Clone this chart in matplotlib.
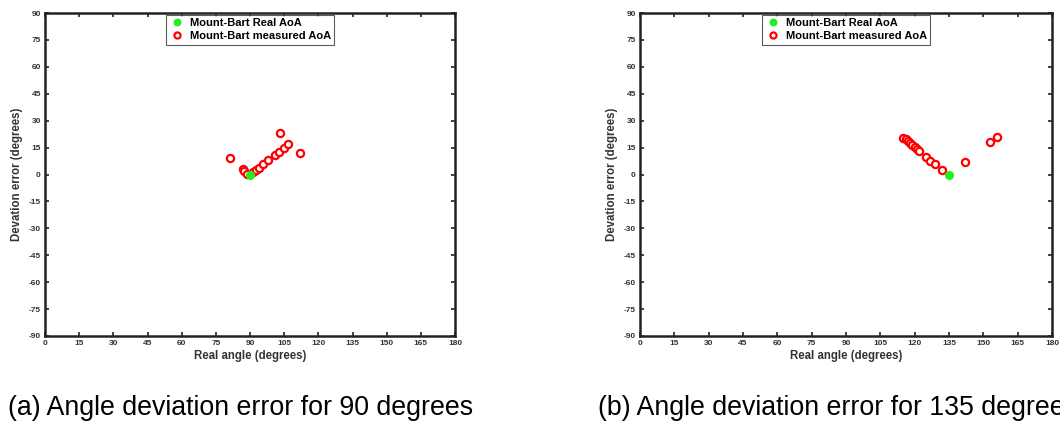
import matplotlib
matplotlib.use("Agg")
import matplotlib.pyplot as plt

plt.rcParams['font.family'] = ['Liberation Sans', 'DejaVu Sans']
plt.rcParams['axes.unicode_minus'] = False

# Panel (a): real AoA 90 degrees
real_a_x = [90]
real_a_y = [0]
meas_a_x = [81, 87, 87.3, 88.8, 91.2, 92.7, 93.9, 95.6, 98, 101, 102.9, 104.8, 106.8, 103, 112]
meas_a_y = [9, 3, 2.1, 0.3, 1.6, 2.5, 3.8, 5.9, 7.9, 10.9, 12.7, 14.9, 17.2, 23, 12]

# Panel (b): real AoA 135 degrees
real_b_x = [135]
real_b_y = [0]
meas_b_x = [115, 116, 117, 118, 119, 120, 121, 122, 124.8, 126.7, 128.9, 132, 142, 153, 156]
meas_b_y = [20.5, 19.6, 18.7, 17.7, 16.6, 15.4, 14.3, 13.3, 9.8, 7.7, 5.9, 2.7, 7, 18, 21]

x_ticks = list(range(0, 181, 15))
y_ticks = list(range(-90, 91, 15))
captions = ["(a) Angle deviation error for 90 degrees",
            "(b) Angle deviation error for 135 degrees"]

fig = plt.figure(figsize=(10.6, 4.25), dpi=100)
W, H = 1060, 425
axes_px = [(45, 13, 410, 323), (640, 13, 412, 323)]
cap_x = [8, 598]

panels = [(real_a_x, real_a_y, meas_a_x, meas_a_y),
          (real_b_x, real_b_y, meas_b_x, meas_b_y)]

for i, (rx, ry, mx, my) in enumerate(panels):
    l, t, w, h = axes_px[i]
    ax = fig.add_axes([l / W, (H - t - h) / H, w / W, h / H])
    ax.plot(rx, ry, 'o', color='#22ee22', markersize=5.5, linestyle='none',
            label='Mount-Bart Real AoA', zorder=3)
    ax.plot(mx, my, 'o', markerfacecolor='white', markeredgecolor='red',
            markeredgewidth=1.6, markersize=5.2, linestyle='none',
            label='Mount-Bart measured AoA', zorder=2)
    ax.set_xlim(0, 180)
    ax.set_ylim(-90, 90)
    ax.set_xticks(x_ticks)
    ax.set_yticks(y_ticks)
    ax.tick_params(direction='in', length=3, width=1.2, top=True, right=True,
                   labelsize=6, pad=3, colors='#222222', labelcolor='#333333')
    for lab in ax.get_xticklabels() + ax.get_yticklabels():
        lab.set_fontweight('bold')
    for s in ax.spines.values():
        s.set_linewidth(1.8)
        s.set_color('#222222')
    ax.set_xlabel('Real angle (degrees)', fontsize=8.3, fontweight='bold',
                  color='#333333', labelpad=2)
    ax.set_ylabel('Devation error (degrees)', fontsize=8.3, fontweight='bold',
                  color='#333333', labelpad=4)
    leg = ax.legend(loc='upper center', bbox_to_anchor=(0.5, 1.0),
                    prop={'size': 8, 'weight': 'bold'}, frameon=True,
                    fancybox=False, edgecolor='#333333', borderaxespad=0.15,
                    handletextpad=0.5, borderpad=0.3, labelspacing=0.3,
                    handlelength=1.4, markerscale=0.85)
    leg.get_frame().set_linewidth(0.8)
    fig.text(cap_x[i] / W, 1 - 408 / H, captions[i], fontsize=19.3,
             ha='left', va='center', color='black')

fig.savefig('out.png', dpi=100)
